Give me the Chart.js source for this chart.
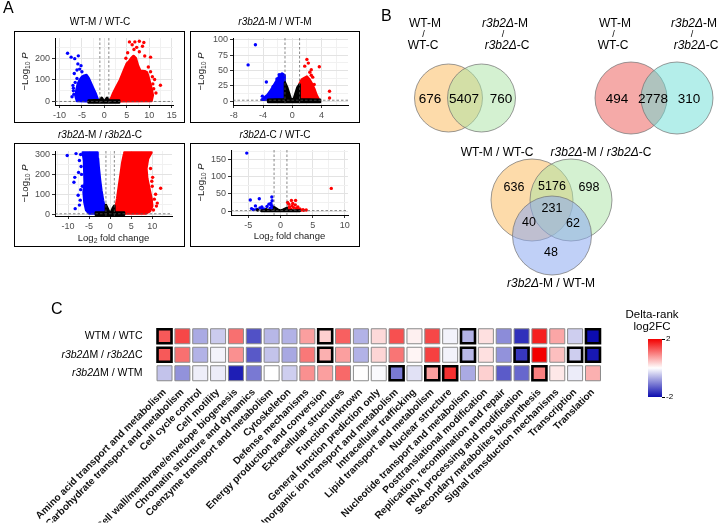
<!DOCTYPE html>
<html><head><meta charset="utf-8">
<script src="https://cdn.jsdelivr.net/npm/chart.js@4.4.1/dist/chart.umd.min.js"></script>
<style>
html,body{margin:0;padding:0;background:#fff;}
#wrap{position:relative;width:719px;height:532px;overflow:hidden;background:#fff;}
#wrap canvas{position:absolute;left:0;top:0;}
</style></head><body><div id="wrap"></div>
<script>
// ================= DATA =================
// ---- Panel A: volcano plots, points are [log2 fold change, -log10 P] ----
const volcanoTitles = ['WT-M / WT-C', 'r3b2Δ-M / WT-M', 'r3b2Δ-M / r3b2Δ-C', 'r3b2Δ-C / WT-C'];
const fcCutoff = 1;
const pCutoff = 1.3;

const v1BlueCloud = [[-1,2],[-1.5,12],[-2,40],[-2.5,62],[-3,85],[-3.5,108],[-4,123],[-4.5,120],[-5,114],[-5.5,100],[-5.9,82],[-6.2,55],[-6.4,25],[-6.1,4],[-4,2]];
const v1BluePts = [[-8.2,223],[-7.4,205],[-6.6,198],[-5.8,211],[-5.9,174],[-5.2,166],[-6.1,146],[-5,138],[-6.9,62],[-7.2,23],[-6.8,34],[-6.1,107],[-6.5,89],[-6.7,130],[-7.0,75],[-6.9,50],[-5.5,150]];
const v1RedCloud = [[1,2],[1.5,15],[2,40],[2.5,60],[3,80],[3.5,100],[4,125],[4.5,150],[5,175],[5.5,185],[6,200],[6.5,210],[7,200],[7.5,165],[8,142],[9,140],[9.5,135],[10,100],[10.5,60],[10.8,30],[10.5,4],[3.3,2]];
const v1RedPts = [[5.6,275],[6.8,275],[7.8,278],[8.8,272],[6.2,262],[7.2,250],[8.5,255],[10.3,205],[7.8,230],[6.6,240],[9,210],[12.5,76],[11.2,102],[10.8,82],[11,60],[10.5,45],[11.5,40],[9.8,160],[10.3,138],[10.7,115],[5.2,225],[4.8,200]];
const v1BlackCloud = [[-3.5,-3],[3.3,-3],[3.3,6],[1,7],[0.6,18],[0.2,6],[-0.2,6],[-0.6,18],[-1,8],[-3.5,6]];

const v2BlueCloud = [[-1,2],[-1,30],[-1.1,42],[-1.4,45],[-1.7,42],[-2,36],[-2.4,28],[-2.9,18],[-3.4,10],[-3.9,5],[-4.2,2]];
const v2BluePts = [[-5.05,92],[-6.05,59],[-3.55,31],[-2.1,36],[-4.1,8],[-3.9,3],[-3.5,4],[-2.6,24],[-1.8,43]];
const v2RedCloud = [[1,2],[1,28],[1.3,35],[1.7,38],[2,40],[2.3,36],[2.6,30],[3,20],[3.3,10],[3.6,3]];
const v2RedPts = [[2,68],[2.2,62],[1.7,57],[2.6,51],[3.7,56],[2.8,39],[2.6,42],[5.1,16],[5.1,5],[3,27],[2.4,47]];
const v2BlackCloud = [[-3.3,-1.5],[3.8,-1.5],[3.8,2],[1,3],[1,27],[0.7,22],[0.2,3],[-0.2,3],[-0.7,22],[-1,30],[-1,3],[-3.3,2]];

const v3BlueCloud = [[-1,3],[-1.3,30],[-1.7,70],[-2.1,120],[-2.4,170],[-2.7,230],[-2.9,280],[-3,310],[-6.5,310],[-6.2,270],[-6,220],[-6.1,160],[-6.3,110],[-6.1,60],[-5.7,20],[-5,3]];
const v3BluePts = [[-10.2,295],[-8.1,305],[-7,300],[-7.3,270],[-8.4,185],[-8.6,160],[-7,123],[-8.3,27],[-7.6,95],[-7.1,70],[-6.8,200],[-6.9,240],[-7.5,210],[-6.6,140],[-7.3,45]];
const v3RedCloud = [[1,3],[1.3,30],[1.7,80],[2.1,140],[2.5,200],[2.9,260],[3.3,300],[3.4,310],[9.8,310],[9,280],[8.6,230],[8.8,180],[9.3,130],[9.8,80],[10,40],[9.5,15],[8.5,3]];
const v3RedPts = [[12,130],[10.1,185],[9.9,165],[10.5,75],[11,40],[10.8,100],[9.6,230],[10,140],[11.2,55],[10.3,20]];
const v3BlackCloud = [[-3.4,-4],[3.3,-4],[3.3,8],[1,9],[1,42],[0.6,28],[0.2,8],[-0.2,8],[-0.6,28],[-1,45],[-1,9],[-3.4,8]];

const v4BluePts = [[-5.25,169],[-4.7,32],[-3.3,36],[-1.35,41],[-1.3,30],[-1.5,22],[-4.5,7],[-3.9,15],[-3.7,5],[-2.8,7],[-2.1,13],[-1.8,20],[-3.2,9],[-2.5,5],[-1.6,8],[-1.2,12],[-1.1,5],[-4.2,4],[-2.9,12],[-1.4,16]];
const v4RedPts = [[7.9,66],[1.7,31],[2.35,31],[1.3,20],[1.8,15],[2.05,10],[2.5,8],[3,6],[3.5,4],[4,3],[1.2,8],[1.6,5],[2.8,3],[3.2,2.5],[1.4,12],[2.3,18],[1.1,25],[2.7,12],[3.6,2],[1.9,22]];
const v4BlackCloud = [[-3,-1],[3,-1],[3,2],[1,3],[1,10],[0.4,5],[0,2],[-0.4,5],[-1,12],[-1,3],[-3,2]];
const v4BlackPts = [[-3.55,3],[-2.2,4],[-1.9,2]];

// ---- Panel B: Venn diagrams ----
const vennPairSets = ['WT-M / WT-C', 'r3b2Δ-M / r3b2Δ-C'];
const venn1Counts = [676, 5407, 760];       // left only, both, right only
const venn2Counts = [494, 2778, 310];
const venn3Sets = ['WT-M / WT-C', 'r3b2Δ-M / r3b2Δ-C', 'r3b2Δ-M / WT-M'];
const venn3Counts = [636, 5176, 698, 231, 40, 62, 48]; // A, AB, B, ABC, AC, BC, C

// ---- Panel C: heatmap ----
const categories = ['Amino acid transport and metabolism','Carbohydrate transport and metabolism','Cell cycle control','Cell motility','Cell wall/membrane/envelope biogenesis','Chromatin structure and dynamics','Coenzyme transport and metabolism','Cytoskeleton','Defense mechanisms','Energy production and conversion','Extracellular structures','Function unknown','General function prediction only','Inorganic ion transport and metabolism','Intracellular trafficking','Lipid transport and metabolism','Nuclear structure','Nucleotide transport and metabolism','Posttranslational modification','Replication, recombination and repair','RNA processing and modification','Secondary metabolites biosynthesis','Signal transduction mechanisms','Transcription','Translation'];
const rowLabels = ['WTM / WTC', 'r3b2ΔM / r3b2ΔC', 'r3b2ΔM / WTM'];
const dWTM_WTC = [1.3,1.44,-0.7,-0.43,1.12,-1.43,-0.59,-0.63,0.75,0.37,1.25,-0.63,0.3,1.37,0.12,1.44,-0.1,-0.63,0.24,-0.95,-1.7,1.75,0.7,-0.4,-2];
const dR3M_R3C = [1.3,1.12,-0.63,-0.1,0.87,-1.37,-0.49,-0.72,1.06,0.62,0.75,-0.63,0.33,1.08,0.08,1.5,-0.1,-0.59,0.24,-0.9,-1.65,2,0.5,-0.4,-1.9];
const dR3M_WTM = [-0.49,-0.9,-0.14,-0.16,-1.85,-1.1,0,-0.4,0.87,0.75,1.18,0.01,-0.05,-1.1,-0.25,0.75,1.62,-0.7,0.37,-1.35,-1.25,1.0,0.18,-0.16,0.62];
const sigWTM_WTC = [1,0,0,0,0,0,0,0,0,1,0,0,0,0,0,0,0,1,0,0,0,0,0,0,1];
const sigR3M_R3C = [1,0,0,0,0,0,0,0,0,1,0,0,0,0,0,0,0,1,0,0,1,0,0,1,1];
const sigR3M_WTM = [0,0,0,0,0,0,0,0,0,0,0,0,0,1,0,1,1,0,0,0,0,1,0,0,0];
const colorbarTicks = [-2, 2];
const colorbarTitle = ['Delta-rank', 'log2FC'];

// ================= HELPERS =================
const FONT = '"Liberation Sans", Arial, Helvetica, sans-serif';
const W = 719, H = 532;
Chart.defaults.font.family = FONT;
Chart.defaults.animation = false;

function makeCanvas(){
  const c = document.createElement('canvas');
  c.width = W; c.height = H; c.style.width = W+'px'; c.style.height = H+'px';
  document.getElementById('wrap').appendChild(c);
  return c.getContext('2d');
}
function markItalic(s){ return s.replace(/r3b2Δ/g, m => '*'+m+'*'); }
function richSegs(str){
  const out = []; const re = /\*([^*]+)\*|_\{([^}]+)\}|([^*_]+)/g; let m;
  while ((m = re.exec(str))) {
    if (m[1]) out.push({t:m[1], i:true}); else if (m[2]) out.push({t:m[2], sub:true}); else out.push({t:m[3]});
  }
  return out;
}
function drawRich(ctx, str, x, y, o){
  o = o || {};
  const size = o.size || 10, weight = o.weight || 'normal';
  const segs = richSegs(str);
  const fontOf = s => (s.i ? 'italic ' : '') + weight + ' ' + (s.sub ? size*0.72 : size) + 'px ' + FONT;
  ctx.save(); ctx.translate(x, y); if (o.rotate) ctx.rotate(o.rotate);
  let w = 0; segs.forEach(s => { ctx.font = fontOf(s); s.w = ctx.measureText(s.t).width; w += s.w; });
  let cx = o.align === 'left' ? 0 : o.align === 'right' ? -w : -w/2;
  ctx.fillStyle = o.color || '#000'; ctx.textBaseline = 'middle'; ctx.textAlign = 'left';
  segs.forEach(s => { ctx.font = fontOf(s); ctx.fillText(s.t, cx, s.sub ? size*0.3 : 0); cx += s.w; });
  ctx.restore();
}
const baseOpts = {responsive:false, devicePixelRatio:1, animation:false, events:[],
  plugins:{legend:{display:false}, tooltip:{enabled:false}, title:{display:false}}};

// ================= PANEL A =================
const toXY = a => a.map(p => ({x:p[0], y:p[1]}));
function cloudDS(arr, col, bw){
  const pts = toXY(arr); pts.push({...pts[0]});
  return {data:pts, showLine:true, fill:'shape', backgroundColor:col, borderColor:col, borderWidth:bw||2.6,
    borderJoinStyle:'round', pointRadius:0, tension:0};
}
function ptsDS(arr, col){ return {data:toXY(arr), showLine:false, pointRadius:1.7, pointBackgroundColor:col, pointBorderWidth:0, backgroundColor:col}; }

function volcano(s){
  const YW = 30, XH = 20;
  const isMaj = (v, m) => Math.abs(v/m - Math.round(v/m)) < 1e-6;
  const axis = (min, max, maj, minr, isY) => ({
    type:'linear', min, max,
    ticks:{stepSize:minr, includeBounds:false, autoSkip:false, maxRotation:0, color:'#4d4d4d',
      font:{size:9}, padding:2, callback:v => isMaj(v, maj) ? String(v) : ''},
    grid:{color:c => isMaj(c.tick.value, maj) ? '#e3e3e3' : '#f1f1f1', lineWidth:1,
      tickColor:c => isMaj(c.tick.value, maj) ? '#333' : 'rgba(0,0,0,0)', tickLength:3, drawTicks:true},
    border:{display:true, color:'#000', width:1},
    afterFit: sc => { if (isY) sc.width = YW; else sc.height = XH; }
  });
  const ds = [];
  if (s.blackPts) ds.push(ptsDS(s.blackPts, '#000'));
  if (s.blackCloud) ds.push(cloudDS(s.blackCloud, '#000', s.blackBW));
  if (s.redPts) ds.push(ptsDS(s.redPts, '#ff0000'));
  if (s.redCloud) ds.push(cloudDS(s.redCloud, '#ff0000'));
  if (s.bluePts) ds.push(ptsDS(s.bluePts, '#0000ff'));
  if (s.blueCloud) ds.push(cloudDS(s.blueCloud, '#0000ff'));
  const p = s.plot;
  return new Chart(makeCanvas(), {
    type:'scatter',
    data:{datasets:ds},
    options:{...baseOpts,
      layout:{padding:{left:p.l - YW, right:W - p.r, top:p.t, bottom:H - p.b - XH}},
      scales:{x:axis(s.x[0], s.x[1], s.x[2], s.x[3], false), y:axis(s.y[0], s.y[1], s.y[2], s.y[3], true)}},
    plugins:[{id:'volc',
      afterDatasetsDraw(ch){
        const c = ch.ctx, a = ch.chartArea, X = ch.scales.x, Y = ch.scales.y;
        c.save(); c.strokeStyle = '#555'; c.lineWidth = 0.7; c.setLineDash([2.5,2]);
        [-fcCutoff, fcCutoff].forEach(v => { const px = X.getPixelForValue(v); c.beginPath(); c.moveTo(px, a.top); c.lineTo(px, a.bottom); c.stroke(); });
        const py = Y.getPixelForValue(pCutoff); c.beginPath(); c.moveTo(a.left, py); c.lineTo(a.right, py); c.stroke();
        c.restore();
      },
      afterDraw(ch){
        const c = ch.ctx, a = ch.chartArea, b = s.box;
        c.save(); c.strokeStyle = '#000'; c.lineWidth = 1; c.strokeRect(b.l+0.5, b.t+0.5, b.r-b.l, b.b-b.t); c.restore();
        drawRich(c, markItalic(s.title), s.titleXY[0], s.titleXY[1], {size:10});
        drawRich(c, '−Log_{10} *P*', s.yTitleX, (a.top + a.bottom)/2, {size:9.5, rotate:-Math.PI/2, color:'#1a1a1a'});
        if (s.xTitleY) drawRich(c, 'Log_{2} fold change', (a.left + a.right)/2, s.xTitleY, {size:9.5, color:'#1a1a1a'});
        if (s.letter) drawRich(c, s.letter, 3, 9, {size:16, align:'left'});
      }}]
  });
}

volcano({title:volcanoTitles[0], letter:'A', plot:{l:55,r:173,t:38,b:105}, box:{l:14,t:31,r:184,b:122},
  x:[-11,15.3,5,2.5], y:[-15,293,100,50], titleXY:[100,22], yTitleX:25,
  blueCloud:v1BlueCloud, bluePts:v1BluePts, redCloud:v1RedCloud, redPts:v1RedPts, blackCloud:v1BlackCloud});
volcano({title:volcanoTitles[1], plot:{l:233,r:348,t:38,b:105}, box:{l:190,t:31,r:359,b:122},
  x:[-8.12,7.63,4,2], y:[-6.5,103,25,12.5], titleXY:[275,22], yTitleX:201,
  blueCloud:v2BlueCloud, bluePts:v2BluePts, redCloud:v2RedCloud, redPts:v2RedPts, blackCloud:v2BlackCloud});
volcano({title:volcanoTitles[2], plot:{l:55,r:172,t:151,b:216}, box:{l:14,t:143,r:184,b:246},
  x:[-13.1,14.7,5,2.5], y:[-10,318,100,50], titleXY:[100,135], yTitleX:25, xTitleY:238,
  blueCloud:v3BlueCloud, bluePts:v3BluePts, redCloud:v3RedCloud, redPts:v3RedPts, blackCloud:v3BlackCloud});
volcano({title:volcanoTitles[3], plot:{l:231,r:348,t:150,b:215}, box:{l:190,t:143,r:359,b:246},
  x:[-7.7,10.5,5,2.5], y:[-11.6,178,50,25], titleXY:[275,135], yTitleX:201, xTitleY:236,
  bluePts:v4BluePts, redPts:v4RedPts, blackCloud:v4BlackCloud, blackPts:v4BlackPts, blackBW:2});

// ================= PANEL B =================
function venn(v){
  const S = v.half;
  const px = (ch, r) => ch.scales.x.getPixelForValue(r) - ch.scales.x.getPixelForValue(0);
  return new Chart(makeCanvas(), {
    type:'scatter',
    data:{datasets:[{data:v.circles.map(c => ({x:c.cx, y:c.cy, r:c.r})),
      pointBackgroundColor:v.circles.map(c => c.fill), pointBorderColor:'#707070', pointBorderWidth:0.7,
      pointRadius:c => c.raw ? px(c.chart, c.raw.r) : 0, clip:false}]},
    options:{...baseOpts,
      layout:{padding:{left:v.ox - S, right:W - v.ox - S, top:v.oy - S, bottom:H - v.oy - S}},
      scales:{x:{type:'linear', display:false, min:-S, max:S}, y:{type:'linear', display:false, min:-S, max:S}}},
    plugins:[{id:'vennText', afterDatasetsDraw(ch){
      const c = ch.ctx, X = ch.scales.x, Y = ch.scales.y;
      v.counts.forEach((n, i) => drawRich(c, String(n), X.getPixelForValue(v.countPos[i][0]), Y.getPixelForValue(v.countPos[i][1]), {size:v.countSize}));
      v.labels.forEach(l => drawRich(c, markItalic(l.t), X.getPixelForValue(l.x), Y.getPixelForValue(l.y), {size:l.size || 12, align:l.align}));
      if (v.letter) drawRich(c, v.letter, 381, 17, {size:16, align:'left'});
    }}]
  });
}
function pairLabels(sets, lx, rx){
  const [a1, a2] = sets[0].split(' / '), [b1, b2] = sets[1].split(' / ');
  return [{t:a1, x:lx, y:74}, {t:'/', x:lx-1.5, y:63, size:9}, {t:a2, x:lx-2, y:52},
          {t:b1, x:rx, y:74}, {t:'/', x:rx-2, y:63, size:9}, {t:b2, x:rx+2, y:52}];
}
venn({letter:'B', ox:465, oy:98, half:60, countSize:13.5,
  circles:[{cx:-16.5, cy:0, r:34, fill:'rgba(251,184,86,0.5)'}, {cx:16.5, cy:0, r:34, fill:'rgba(170,228,164,0.5)'}],
  counts:venn1Counts, countPos:[[-35,-1],[-1,-1],[36,-1]], labels:pairLabels(vennPairSets, -40, 40)});
venn({ox:654, oy:98, half:60, countSize:13.5,
  circles:[{cx:-23, cy:0, r:36, fill:'rgba(236,86,82,0.5)'}, {cx:23, cy:0, r:36, fill:'rgba(105,221,213,0.5)'}],
  counts:venn2Counts, countPos:[[-37,-1],[-1,-1],[35,-1]], labels:pairLabels(vennPairSets, -39, 40)});
venn({ox:552, oy:215, half:60, countSize:12.5,
  circles:[{cx:-20, cy:15, r:41, fill:'rgba(251,184,86,0.5)'}, {cx:19, cy:15, r:41, fill:'rgba(170,228,164,0.5)'}, {cx:0, cy:-20.5, r:39.5, fill:'rgba(140,170,240,0.55)'}],
  counts:venn3Counts, countPos:[[-38,27],[0,28],[37,27],[0,6],[-23,-8],[21,-9],[-1,-38]],
  labels:[{t:venn3Sets[0], x:-55, y:62}, {t:venn3Sets[1], x:49, y:62}, {t:venn3Sets[2], x:-1, y:-69}]});

// ================= PANEL C =================
function heatColor(v){
  const t = Math.max(-1, Math.min(1, v/2));
  if (t >= 0) { const g = Math.round(255*(1-t)); return `rgb(${Math.round(255-12*t)},${g},${g})`; }
  const a = -t; return `rgb(${Math.round(255-243*a)},${Math.round(255-243*a)},${Math.round(255-80*a)})`;
}
const heatRows = [dWTM_WTC, dR3M_R3C, dR3M_WTM];
const heatSig = [sigWTM_WTC, sigR3M_R3C, sigR3M_WTM];
const cells = [];
rowLabels.forEach((r, ri) => categories.forEach((c, ci) => cells.push({x:c, y:r, v:heatRows[ri][ci], s:heatSig[ri][ci]})));
const HM = {l:155.6, r:601.9, t:327, b:382.5, xh:140};
new Chart(makeCanvas(), {
  type:'scatter',
  data:{datasets:[{data:cells, pointStyle:'rect', clip:false,
    pointBackgroundColor:c => c.raw ? heatColor(c.raw.v) : '#fff',
    pointBorderColor:c => c.raw && c.raw.s ? '#000' : '#8a8a8a',
    pointBorderWidth:c => c.raw && c.raw.s ? 2.6 : 1,
    pointRadius:c => (c.raw && c.raw.s ? 14 : 15) / (2*Math.SQRT1_2)}]},
  options:{...baseOpts,
    layout:{padding:{left:HM.l, right:W - HM.r, top:HM.t, bottom:H - HM.b - HM.xh}},
    scales:{
      x:{type:'category', labels:categories, offset:true,
        grid:{display:false, drawTicks:false}, border:{display:false},
        ticks:{autoSkip:false, minRotation:45, maxRotation:45, color:'#111', padding:4, font:{size:10, weight:'bold'}},
        afterFit: sc => { sc.height = HM.xh; }},
      y:{type:'category', labels:rowLabels, offset:true, display:false}}},
  plugins:[{id:'rows', afterDraw(ch){
    const c = ch.ctx, Y = ch.scales.y;
    rowLabels.forEach((r, i) => drawRich(c, markItalic(r), ch.chartArea.left - 13, Y.getPixelForValue(i), {size:10.5, align:'right'}));
    drawRich(c, 'C', 51, 310, {size:16, align:'left'});
  }}]
});

// colour bar legend
const CB = {l:648, r:662, t:339, b:397, yw:16};
new Chart(makeCanvas(), {
  type:'bar',
  data:{labels:['cb'], datasets:[{data:[[colorbarTicks[0], colorbarTicks[1]]], barPercentage:1, categoryPercentage:1, borderWidth:0,
    backgroundColor:c => {
      const a = c.chart.chartArea; if (!a) return '#fff';
      const g = c.chart.ctx.createLinearGradient(0, a.bottom, 0, a.top);
      [-2,-1,0,1,2].forEach(v => g.addColorStop((v+2)/4, heatColor(v)));
      return g;
    }}]},
  options:{...baseOpts,
    layout:{padding:{left:CB.l, right:W - CB.r - CB.yw, top:CB.t, bottom:H - CB.b}},
    scales:{
      x:{display:false},
      y:{position:'right', min:colorbarTicks[0], max:colorbarTicks[1],
        afterBuildTicks: sc => { sc.ticks = colorbarTicks.map(v => ({value:v})); },
        ticks:{font:{size:8}, color:'#000', padding:1},
        grid:{drawOnChartArea:false, drawTicks:true, tickLength:3, color:'#000'},
        border:{display:false},
        afterFit: sc => { sc.width = CB.yw; }}}},
  plugins:[{id:'cbt', afterDraw(ch){
    colorbarTitle.forEach((t, i) => drawRich(ch.ctx, t, 652, 315 + i*12, {size:11.5}));
  }}]
});
</script></body></html>
